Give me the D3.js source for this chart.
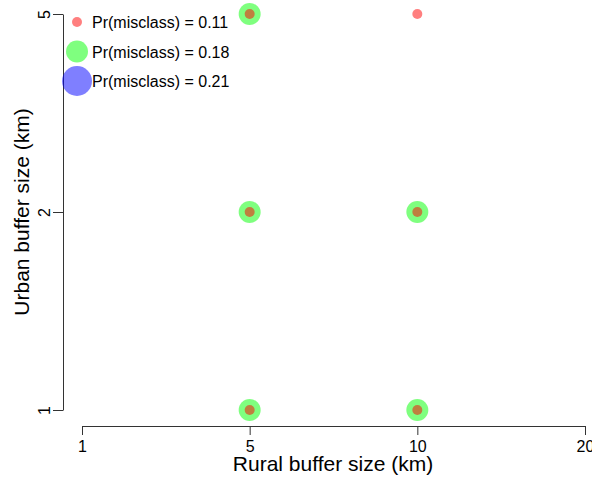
<!DOCTYPE html>
<html>
<head>
<meta charset="utf-8">
<script src="https://cdn.jsdelivr.net/npm/d3@7"></script>
<style>
  body { margin: 0; background: #fff; }
  svg { font-family: "Liberation Sans", Arial, sans-serif; }
</style>
</head>
<body>
<script>
// data
const ruralSizes = ["1", "5", "10", "20"];
const urbanSizes = ["1", "2", "5"];

// points per misclassification level (rural, urban)
const pts011 = [["5","5"], ["10","5"], ["5","2"], ["10","2"], ["5","1"], ["10","1"]];
const pts018 = [["5","5"], ["5","2"], ["10","2"], ["5","1"], ["10","1"]];
const pts021 = [];

const levels = [0.21, 0.18, 0.11];
const legendLevels = [0.11, 0.18, 0.21];
const levelColor = {0.11: "rgba(255,0,0,0.5)", 0.18: "rgba(0,255,0,0.5)", 0.21: "rgba(0,0,255,0.5)"};
const levelPoints = {0.11: pts011, 0.18: pts018, 0.21: pts021};

var w = 592, h = 478;

const svg = d3.select("body").append("svg")
    .attr("width", w)
    .attr("height", h);

const xScale = d3.scalePoint().domain(ruralSizes).range([82, 585]);
const yScale = d3.scalePoint().domain(urbanSizes).range([410, 14]);
const rScale = d3.scaleLinear().domain([0.11, 0.18, 0.21]).range([5, 11, 15]);

// x axis
const xAxisG = svg.append("g")
    .attr("transform", "translate(0,426)")
    .call(d3.axisBottom(xScale).tickSize(9).tickSizeOuter(0).tickPadding(6));
xAxisG.selectAll("text").attr("font-size", 16).attr("fill", "#000")
    .attr("font-family", "Liberation Sans, Arial, sans-serif");
xAxisG.selectAll("path,line").attr("stroke", "#333");

// y axis
const yAxisG = svg.append("g")
    .attr("transform", "translate(63,0)")
    .call(d3.axisLeft(yScale).tickSize(10).tickSizeOuter(0));
yAxisG.selectAll("path,line").attr("stroke", "#333");
yAxisG.selectAll("text")
    .attr("font-size", 16).attr("fill", "#000")
    .attr("font-family", "Liberation Sans, Arial, sans-serif")
    .attr("x", null).attr("dy", null)
    .attr("text-anchor", "middle")
    .attr("transform", "translate(-13,0) rotate(-90)");

// points: bigger levels first so the small ones sit on top
levels.forEach(lv => {
    svg.append("g").selectAll("circle")
        .data(levelPoints[lv])
        .enter()
        .append("circle")
        .attr("cx", d => xScale(d[0]))
        .attr("cy", d => yScale(d[1]))
        .attr("r", rScale(lv))
        .attr("fill", levelColor[lv]);
});

// legend
const leg = svg.append("g");
legendLevels.forEach((lv, i) => {
    const y = 22 + i * 29.5;
    leg.append("circle")
        .attr("cx", 77).attr("cy", y)
        .attr("r", rScale(lv))
        .attr("fill", levelColor[lv]);
    leg.append("text")
        .attr("x", 92).attr("y", y + 6)
        .attr("font-size", 16)
        .text("Pr(misclass) = " + lv.toFixed(2));
});

// axis titles
svg.append("text")
    .attr("x", 333).attr("y", 471)
    .attr("text-anchor", "middle")
    .attr("font-size", 21)
    .text("Rural buffer size (km)");

svg.append("text")
    .attr("transform", "translate(29,212) rotate(-90)")
    .attr("text-anchor", "middle")
    .attr("font-size", 21)
    .text("Urban buffer size (km)");
</script>
</body>
</html>
